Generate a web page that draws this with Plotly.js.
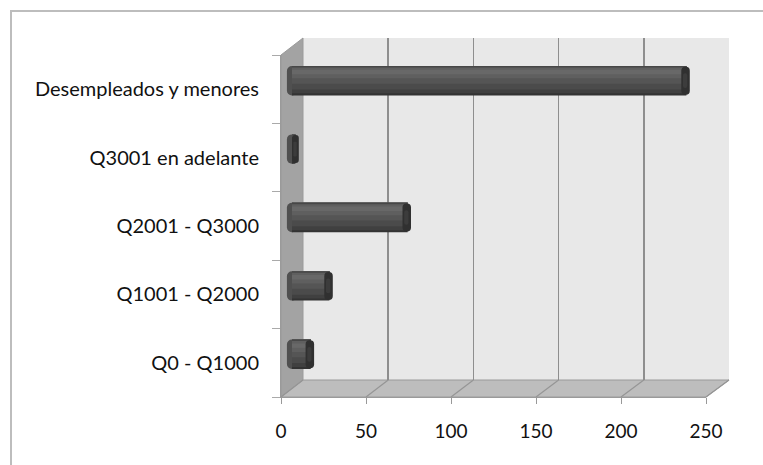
<!DOCTYPE html>
<html>
<head>
<meta charset="utf-8">
<script src="https://cdn.plot.ly/plotly-3.0.1.min.js"></script>
<style>
  html, body { margin: 0; padding: 0; background: #fff; }
  #wrap { position: relative; width: 763px; height: 465px; overflow: hidden; }
  #chart { position: absolute; left: 0; top: 0; width: 763px; height: 465px; }
  #frame { position: absolute; left: 10px; top: 10px; width: 800px; height: 500px;
           border-top: 2px solid #bdbdbd; border-left: 2px solid #bdbdbd; pointer-events: none; }
</style>
</head>
<body>
<div id="wrap">
  <div id="chart"></div>
  <div id="frame"></div>
</div>
<script>
// ---- data ----
const categories = ['Q0 - Q1000', 'Q1001 - Q2000', 'Q2001 - Q3000', 'Q3001 en adelante', 'Desempleados y menores'];
const values = [13, 24, 70, 4, 234];
const xTickVals = [0, 50, 100, 150, 200, 250];
const xTickText = ['0', '50', '100', '150', '200', '250'];

// ---- geometry (pixels) ----
const W = 763, H = 465;
const ML = 281, MR = 34, MT = 38, MB = 68;
const PW = W - ML - MR, PH = H - MT - MB;   // plot union area
const DX = 22, DY = 17;                    // depth offset of the back wall
const FRONT_W = 425;                       // front axis length
const xMax = 250;
const ppu = FRONT_W / xMax;                // pixels per unit
const midMin = -4;                         // room for the rounded back end of the cylinders

const dBx0 = DX / PW, dBy0 = DY / PH;
const dFx1 = FRONT_W / PW, dFy1 = (PH - DY) / PH;
const dMx0 = (DX / 2 + midMin * ppu) / PW, dMx1 = (DX / 2 + FRONT_W) / PW;
const dMy0 = DY / 2 / PH, dMy1 = (PH - DY / 2) / PH;

const fx = v => (v / xMax) * dFx1;
const bx = v => dBx0 + (v / xMax) * (1 - dBx0);

const fontFam = 'Lato, "Open Sans", sans-serif';

// ---- traces ----
const traces = [];
traces.push({type: 'scatter', mode: 'markers', x: values, y: categories, xaxis: 'x', yaxis: 'y',
  marker: {opacity: 0}, hoverinfo: 'skip', showlegend: false});
traces.push({type: 'scatter', mode: 'markers', x: values, y: categories, xaxis: 'x3', yaxis: 'y3',
  marker: {opacity: 0}, hoverinfo: 'skip', showlegend: false});

const T = 0.43; // cylinder thickness in category units
// rounded back end of each cylinder
traces.push({type: 'bar', orientation: 'h', x: values.map(() => -6), base: values.map(() => 3),
  y: categories, xaxis: 'x2', yaxis: 'y2', offset: -T / 2, width: T,
  marker: {color: '#505050', cornerradius: 6, line: {width: 0}}, hoverinfo: 'skip', showlegend: false});

// shading bands of the cylinder body: each band starts at a fraction (from bottom) and runs to the top
const bands = [
  [0.00, '#333333'],
  [0.07, '#404040'],
  [0.20, '#4b4b4b'],
  [0.40, '#555555'],
  [0.58, '#5f5f5f'],
  [0.72, '#686868'],
  [0.87, '#5f5f5f'],
  [0.95, '#474747']
];
const bodyLen = values.map(v => Math.max(v - 2, 0));
bands.forEach(b => {
  traces.push({type: 'bar', orientation: 'h', x: bodyLen, y: categories, xaxis: 'x2', yaxis: 'y2',
    offset: -T / 2 + b[0] * T, width: (1 - b[0]) * T,
    marker: {color: b[1], line: {width: 0}}, hoverinfo: 'skip', showlegend: false});
});
// front end caps
const capLen = values.map(v => Math.min(v, 5));
const capBase = values.map((v, i) => v - capLen[i]);
traces.push({type: 'bar', orientation: 'h', x: capLen, base: capBase, y: categories, xaxis: 'x2', yaxis: 'y2',
  offset: -T / 2 + 0.01, width: T - 0.02,
  marker: {color: '#303030', cornerradius: 5, line: {width: 0}}, hoverinfo: 'skip', showlegend: false});
traces.push({type: 'bar', orientation: 'h', x: capLen.map(c => c * 0.5), base: capBase.map((b, i) => b + capLen[i] * 0.2),
  y: categories, xaxis: 'x2', yaxis: 'y2',
  offset: -T / 2 + 0.25 * T, width: 0.5 * T,
  marker: {color: '#3c3c3c', cornerradius: 2, line: {width: 0}}, hoverinfo: 'skip', showlegend: false});

// ---- shapes (3D walls) ----
const shapes = [];
shapes.push({type: 'rect', xref: 'paper', yref: 'paper', x0: dBx0, x1: 1, y0: dBy0, y1: 1,
  fillcolor: '#e8e8e8', line: {width: 0}, layer: 'below'});
shapes.push({type: 'path', xref: 'paper', yref: 'paper',
  path: `M 0 0 L 0 ${dFy1} L ${dBx0} 1 L ${dBx0} ${dBy0} Z`,
  fillcolor: '#a3a3a3', line: {color: '#9a9a9a', width: 1}, layer: 'below'});
shapes.push({type: 'path', xref: 'paper', yref: 'paper',
  path: `M ${fx(0)} 0 L ${fx(xMax)} 0 L ${bx(xMax)} ${dBy0} L ${bx(0)} ${dBy0} Z`,
  fillcolor: '#bdbdbd', line: {color: '#9a9a9a', width: 1}, layer: 'below'});
xTickVals.forEach(v => {
  shapes.push({type: 'line', xref: 'paper', yref: 'paper', x0: fx(v), y0: 0, x1: bx(v), y1: dBy0,
    line: {color: '#959595', width: 1.2}, layer: 'below'});
});

const layout = {
  width: W, height: H,
  margin: {l: ML, r: MR, t: MT, b: MB, pad: 0},
  paper_bgcolor: '#ffffff',
  plot_bgcolor: 'rgba(0,0,0,0)',
  showlegend: false,
  barmode: 'overlay',
  font: {family: fontFam, color: '#111'},
  xaxis: {domain: [dBx0, 1], anchor: 'y', range: [0, xMax], tickvals: xTickVals, showticklabels: false,
    ticks: '', showgrid: true, gridcolor: '#8e8e8e', gridwidth: 1.5, zeroline: false, showline: false, fixedrange: true},
  yaxis: {domain: [dBy0, 1], anchor: 'x', type: 'category', categoryorder: 'array', categoryarray: categories,
    range: [-0.5, 4.5], visible: false, fixedrange: true},
  xaxis2: {domain: [dMx0, dMx1], anchor: 'y2', range: [midMin, xMax], visible: false, fixedrange: true},
  yaxis2: {domain: [dMy0, dMy1], anchor: 'x2', type: 'category', categoryorder: 'array', categoryarray: categories,
    range: [-0.5, 4.5], visible: false, fixedrange: true},
  xaxis3: {domain: [0, dFx1], anchor: 'y3', range: [0, xMax], tickvals: xTickVals, ticktext: xTickText,
    ticks: 'outside', ticklen: 6, tickcolor: '#999', tickwidth: 1, showline: true, linecolor: '#9a9a9a', linewidth: 1,
    showgrid: false, zeroline: false, ticklabelstandoff: 11,
    tickfont: {family: fontFam, size: 19, color: '#111'}, fixedrange: true},
  yaxis3: {domain: [0, dFy1], anchor: 'x3', type: 'category', categoryorder: 'array', categoryarray: categories,
    range: [-0.5, 4.5], tickson: 'boundaries', ticks: 'outside', ticklen: 8, tickcolor: '#aaa', tickwidth: 1,
    showline: true, linecolor: '#9a9a9a', linewidth: 1, showgrid: false, zeroline: false, ticklabelstandoff: 17,
    tickfont: {family: fontFam, size: 20, color: '#111'}, fixedrange: true},
  shapes: shapes
};

Plotly.newPlot('chart', traces, layout, {displayModeBar: false, staticPlot: true});
</script>
</body>
</html>
